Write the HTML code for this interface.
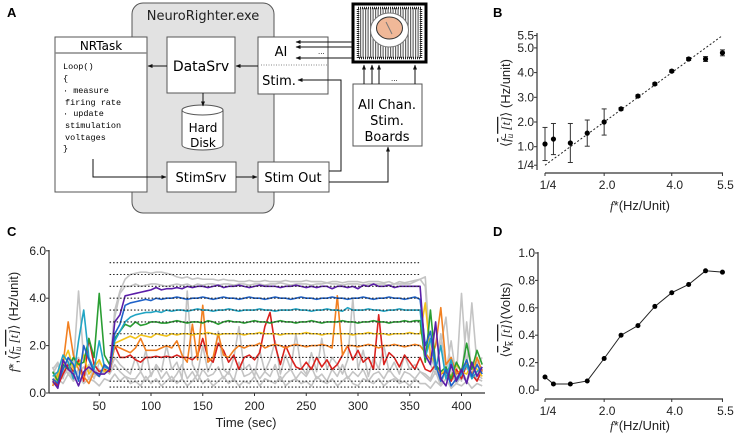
<!DOCTYPE html>
<html><head><meta charset="utf-8">
<style>
body{margin:0;background:#fff;}
svg{display:block;font-family:"Liberation Sans",sans-serif;}
.mono{font-family:"Liberation Mono",monospace;font-size:8.5px;}
</style></head>
<body>
<svg id="fig" width="734" height="433" viewBox="0 0 734 433">
<defs>
<marker id="ah" viewBox="0 0 10 10" refX="9" refY="5" markerWidth="5" markerHeight="5" orient="auto"><path d="M0,1 L10,5 L0,9 z" fill="#111"/></marker>
<pattern id="rad" width="2.5" height="2.5" patternUnits="userSpaceOnUse"><rect width="2.5" height="2.5" fill="#fff"/><rect width="1.2" height="2.5" fill="#666"/></pattern>
</defs>
<!-- Panel A -->
<g stroke-width="1">
<text x="7" y="17" font-weight="bold" font-size="13">A</text>
<rect x="132" y="3" width="142" height="210" rx="11" fill="#e2e2e2" stroke="#555"/>
<text x="203" y="20" font-size="13" text-anchor="middle" fill="#222" font-family="DejaVu Sans">NeuroRighter.exe</text>
<g>
<rect x="55" y="37" width="92" height="155" fill="#fff" stroke="#555"/>
<line x1="55" y1="53" x2="147" y2="53" stroke="#888" stroke-width="1.5"/>
<text x="101" y="50" font-size="12" text-anchor="middle" font-family="DejaVu Sans">NRTask</text>
<text class="mono" x="63" y="69">Loop()</text>
<text class="mono" x="63" y="81">{</text>
<text class="mono" x="63" y="93">· measure</text>
<text class="mono" x="65" y="105">firing rate</text>
<text class="mono" x="63" y="116">· update</text>
<text class="mono" x="65" y="128">stimulation</text>
<text class="mono" x="65" y="140">voltages</text>
<text class="mono" x="63" y="151">}</text>
</g>
<g>
<rect x="167" y="37" width="68" height="56" fill="#fff" stroke="#555"/>
<text x="201" y="71" font-size="14" text-anchor="middle" font-family="DejaVu Sans">DataSrv</text>
</g>
<g>
<rect x="258" y="37" width="70" height="57" fill="#fff" stroke="#555"/>
<text x="281" y="56" font-size="13" text-anchor="middle" font-family="DejaVu Sans">AI</text>
<text x="318" y="54" font-size="7" font-family="DejaVu Sans">...</text>
<line x1="261" y1="65" x2="328" y2="65" stroke="#888" stroke-dasharray="1,1.5"/>
<text x="279" y="85" font-size="13" text-anchor="middle" font-family="DejaVu Sans">Stim.</text>
</g>
<g>
<path d="M182,110 L182,145 A20.5,5 0 0 0 223,145 L223,110" fill="#fff" stroke="#555"/>
<ellipse cx="202.5" cy="110" rx="20.5" ry="5" fill="#fff" stroke="#555"/>
<text x="203" y="132" font-size="12" text-anchor="middle" font-family="DejaVu Sans">Hard</text>
<text x="203" y="147" font-size="12" text-anchor="middle" font-family="DejaVu Sans">Disk</text>
</g>
<g>
<rect x="167" y="162" width="69" height="30" fill="#fff" stroke="#555"/>
<text x="201" y="182" font-size="13" text-anchor="middle" font-family="DejaVu Sans">StimSrv</text>
</g>
<g>
<rect x="258" y="162" width="71" height="30" fill="#fff" stroke="#555"/>
<text x="293" y="182" font-size="13" text-anchor="middle" font-family="DejaVu Sans">Stim Out</text>
</g>
<g>
<rect x="353" y="4" width="73" height="58" fill="#fff" stroke="#000" stroke-width="3"/>
<rect x="358" y="8" width="63" height="50" fill="url(#rad)" stroke="#222" stroke-width="2.5" stroke-dasharray="1,1"/>
<ellipse cx="389.5" cy="30" rx="19" ry="17" fill="#fff" stroke="#777"/>
<ellipse cx="389.5" cy="28" rx="13" ry="11" fill="#f0b898" stroke="#333"/>
<line x1="386" y1="22" x2="392" y2="34" stroke="#777"/>
</g>
<g>
<rect x="353" y="84" width="69" height="62" fill="#fff" stroke="#555"/>
<text x="387" y="109" font-size="13" text-anchor="middle" font-family="DejaVu Sans">All Chan.</text>
<text x="387" y="125" font-size="13" text-anchor="middle" font-family="DejaVu Sans">Stim.</text>
<text x="387" y="141" font-size="13" text-anchor="middle" font-family="DejaVu Sans">Boards</text>
</g>
<g stroke="#111" fill="none" marker-end="url(#ah)">
<line x1="352" y1="42" x2="296" y2="42"/>
<line x1="352" y1="47" x2="296" y2="47"/>
<line x1="352" y1="58" x2="296" y2="58"/>
<line x1="364" y1="84" x2="364" y2="65"/>
<line x1="372" y1="84" x2="372" y2="65"/>
<line x1="379" y1="84" x2="379" y2="65"/>
<line x1="415" y1="84" x2="415" y2="65"/>
<line x1="258" y1="66" x2="236" y2="66"/>
<line x1="167" y1="66" x2="148" y2="66"/>
<line x1="203" y1="93" x2="203" y2="106"/>
<polyline points="329,171 341,171 341,80 298,80"/>
<polyline points="329,182 388,182 388,147"/>
<polyline points="93,159 93,177 166,177"/>
<line x1="236" y1="177" x2="257" y2="177"/>
</g>
<text x="391" y="81" font-size="7" font-family="DejaVu Sans">...</text>
</g>
<text x="493" y="17" font-weight="bold" font-size="13">B</text>
<text x="7" y="236" font-weight="bold" font-size="13">C</text>
<text x="493" y="236" font-weight="bold" font-size="13">D</text>
<g id="pb"></g>
<g id="pc"></g>
<g id="pd"></g>
</svg>
<script>
// ---- Panel B data ----
const bTargets = [0.25,0.5,1.0,1.5,2.0,2.5,3.0,3.5,4.0,4.5,5.0,5.5];
const bMeans = [1.11,1.31,1.15,1.55,2.0,2.53,3.05,3.54,4.06,4.55,4.55,4.8];
const bErrors = [0.67,0.63,0.79,0.53,0.53,0.05,0.05,0.05,0.05,0.06,0.1,0.12];
const bYTicks = [5.5,5.0,4.0,3.0,2.0,1.0,0.25];
const bYLabels = ["5.5","5.0","4.0","3.0","2.0","1.0","1/4"];
const xTicks = [0.25,2.0,4.0,5.5];
const xLabels = ["1/4","2.0","4.0","5.5"];
// ---- Panel D data ----
const dMeans = [0.095,0.044,0.044,0.066,0.23,0.40,0.47,0.61,0.71,0.77,0.87,0.86];
const dYTicks = [0,0.2,0.4,0.6,0.8,1.0];
const dYLabels = ["0.0","0.2","0.4","0.6","0.8","1.0"];
// ---- Panel C data ----
const cTimes = []; for (let t = 5; t <= 420; t += 5) cTimes.push(t);
const cLevels = [0.25,0.5,1.0,1.5,2.0,2.5,3.0,3.5,4.0,4.5,5.0,5.5];
const cXTicks = [50,100,150,200,250,300,350,400];
const cYTicks = [0,2,4,6];
const cYLabels = ["0.0","2.0","4.0","6.0"];
const gray1 = [1.0,1.3,0.6,1.4,1.1,4.3,1.4,0.9,1.2,1.0,0.8,1.0, 3.5,4.3,4.8,5.0,
 5.05,5.1,5.1,5.05,5.1,5.1,5.05,5.0, 4.9,4.85,4.9,4.8,4.85,4.8,4.8,4.8, 4.75,4.8,4.75,4.75,4.7,4.7,4.75,4.7, 4.7,4.75,4.7,4.7,4.7,4.75,4.7,4.7, 4.7,4.75,4.7,4.7,4.7,4.65,4.7,4.7, 4.65,4.7,4.7,4.7,4.65,4.7,4.7,4.7, 4.65,4.7,4.6,4.7,4.65,4.7,4.75,4.8,
 4.5,1.2,0.8,2.5,1.0,1.5,0.6,4.2,1.0,3.8,1.2,1.5];
const gray2 = [0.5,0.9,1.1,0.8,1.3,1.5,0.7,1.1,0.6,1.3,1.0,1.1, 3.2,4.2,4.5,4.5,
 4.6,4.5,4.55,4.6,4.6,4.55,4.5,4.55, 4.6,4.55,4.6,4.5,4.6,4.55,4.6,4.6, 4.55,4.6,4.6,4.55,4.6,4.6,4.55,4.6, 4.6,4.55,4.6,4.6,4.65,4.6,4.55,4.6, 4.6,4.6,4.55,4.6,4.6,4.65,4.6,4.6, 4.55,4.6,4.6,4.6,4.55,4.6,4.6,4.6, 4.6,4.55,4.6,4.6,4.6,4.6,4.7,4.8,
 4.9,1.5,1.0,2.0,3.2,0.8,1.0,0.5,3.0,0.8,1.2,0.9];
const gray3 = [0.8,1.2,0.7,1.0,0.5,0.9,1.1,0.6,1.0,0.8,0.9,0.9, 1.5,1.2,1.0,0.8,
 1.5,0.9,1.8,0.7,1.2,0.9,2.0,1.0, 1.3,0.6,4.3,1.2,0.8,2.0,0.9,1.4, 2.6,1.0,0.8,1.5,2.8,1.0,1.2,0.7, 1.8,0.9,1.4,2.2,0.8,1.6,1.0,2.5, 1.1,0.8,1.7,0.9,2.3,1.0,1.5,1.2, 0.8,1.4,4.0,1.0,1.8,0.7,1.5,1.0, 2.0,0.9,1.3,0.8,1.6,1.0,1.2,0.9,
 0.8,0.6,1.2,0.4,0.9,2.2,0.6,1.0,0.5,1.3,0.8,0.6];
const gray4 = [1.1,0.5,0.9,1.3,0.7,1.0,0.6,1.2,0.8,0.7,1.0,0.8, 1.2,0.9,0.7,0.6,
 0.6,0.9,0.5,0.8,1.1,0.6,0.9,0.5, 0.8,1.2,0.6,0.9,0.5,1.0,0.7,0.8, 1.1,0.6,0.9,0.5,1.3,0.7,0.8,1.0, 0.6,0.9,0.7,1.2,0.5,0.8,1.0,0.6, 0.9,0.7,1.1,0.6,0.8,0.5,1.0,0.7, 1.2,0.6,0.9,0.7,1.0,0.5,0.8,0.9, 0.6,1.0,0.7,0.5,0.9,0.8,0.6,0.9,
 0.7,0.5,0.9,0.3,0.6,0.8,0.4,0.7,0.5,0.9,0.6,0.5];
const gray5 = [0.3,0.6,0.4,0.8,0.5,0.7,0.4,0.6,0.5,0.3,0.6,0.5, 0.8,0.5,0.7,0.4,
 0.5,0.3,0.7,0.4,0.6,0.3,0.5,0.7, 0.4,0.6,0.3,0.5,0.8,0.4,0.6,0.3, 0.5,0.7,0.4,0.6,0.3,0.5,0.4,0.7, 0.3,0.6,0.5,0.4,0.7,0.3,0.5,0.6, 0.4,0.5,0.3,0.7,0.5,0.4,0.6,0.3, 0.5,0.7,0.4,0.3,0.6,0.5,0.4,0.6, 0.3,0.5,0.6,0.4,0.5,0.3,0.6,0.4,
 0.4,0.2,0.5,0.3,0.6,0.2,0.4,0.3,0.5,0.2,0.4,0.3];
const redS = [0.6,0.3,0.8,1.2,0.9,1.4,0.5,2.3,1.2,0.9,1.0,0.9, 2.0,1.5,1.5,1.6,
 1.4,1.3,1.5,1.5,1.55,1.5,1.55,1.5, 1.6,1.5,1.5,1.4,1.6,2.3,1.5,1.3, 2.1,1.8,1.3,1.6,1.0,1.5,1.6,1.4, 1.7,2.8,3.4,2.0,1.2,2.0,1.5,1.1, 1.0,1.3,1.0,1.5,1.1,1.4,1.0,1.2, 1.6,2.0,1.4,1.8,1.3,1.5,1.0,3.3, 1.2,1.7,1.5,1.1,1.6,1.3,1.0,1.5,
 1.0,0.9,1.2,0.8,0.9,0.5,1.0,0.6,1.2,0.8,0.5,1.0];
const orangeS = [0.3,0.8,1.2,3.0,1.6,1.0,0.7,0.4,0.9,0.7,1.2,1.0, 2.0,1.9,1.8,1.7,
 1.9,2.3,1.8,1.8,1.8,1.9,2.0,1.9, 2.2,1.6,1.3,2.9,1.4,3.7,1.3,1.5, 2.5,1.6,1.5,1.8,2.0,1.9,2.0,2.0, 2.1,1.9,2.0,2.05,2.0,1.9,2.0,2.05, 2.0,1.95,2.0,2.0,2.05,2.0,1.9,4.1, 1.6,2.0,2.0,1.95,2.0,2.05,2.0,1.9, 2.0,2.0,2.05,2.0,1.95,2.0,2.05,2.0,
 1.7,1.4,2.0,3.6,1.2,1.5,0.8,1.0,1.3,0.7,1.5,0.9];
const yellowS = [0.4,0.7,1.3,1.8,1.0,1.2,1.6,0.8,1.1,1.4,0.9,1.0, 2.1,2.2,2.3,2.4,
 2.3,2.45,2.4,2.35,2.5,2.45,2.4,2.5, 2.45,2.5,2.5,2.45,2.5,2.5,2.55,2.5, 2.45,2.5,2.5,2.5,2.5,2.45,2.5,2.5, 2.55,2.5,2.5,2.5,2.45,2.5,2.5,2.5, 2.5,2.55,2.5,2.5,2.45,2.5,2.5,2.5, 2.5,2.5,2.45,2.5,2.5,2.55,2.5,2.5, 2.5,2.45,2.5,2.5,2.5,2.55,2.5,2.5,
 3.8,1.6,1.2,0.8,1.0,0.7,1.2,0.9,0.8,1.3,1.0,0.7];
const greenS = [0.9,0.5,1.2,1.0,1.5,1.2,1.3,2.3,1.5,4.2,1.6,1.2, 2.3,2.6,2.9,2.8,
 3.0,2.85,2.9,3.0,3.0,2.95,2.95,3.0, 3.05,3.0,2.95,3.0,3.0,2.95,3.05,3.0, 2.9,3.0,3.05,3.0,3.0,2.95,3.0,3.05, 3.0,3.0,2.95,3.0,3.05,3.0,3.0,2.95, 3.0,3.0,3.05,3.0,2.95,3.0,3.0,3.0, 3.05,3.0,3.0,2.95,3.0,3.0,3.05,3.0, 3.0,2.95,3.0,3.0,3.05,3.0,3.05,3.05,
 1.3,3.5,1.2,0.9,1.1,0.6,1.3,0.9,2.1,1.0,1.8,1.2];
const cyanS = [0.7,0.9,1.6,1.3,0.6,2.2,3.5,1.5,1.0,2.2,1.1,1.0, 2.2,2.6,3.0,3.2,
 3.3,3.35,3.4,3.4,3.45,3.4,3.5,3.45, 3.5,3.5,3.45,3.5,3.55,3.5,3.5,3.45, 3.5,3.5,3.55,3.5,3.45,3.5,3.5,3.5, 3.55,3.5,3.5,3.45,3.5,3.5,3.5,3.55, 3.5,3.5,3.45,3.5,3.5,3.55,3.5,3.5, 3.45,3.6,3.5,3.5,3.5,3.55,3.5,3.5, 3.45,3.5,3.5,3.55,3.5,3.5,3.5,3.5,
 1.5,2.3,1.0,2.0,0.6,1.4,0.5,0.8,1.2,0.6,0.9,1.1];
const blueS = [0.6,0.4,1.0,1.5,1.2,0.5,2.0,1.4,0.9,0.7,1.2,1.0, 2.5,2.9,3.7,3.8,
 3.85,3.9,3.95,3.9,4.0,3.95,4.0,4.0, 4.05,4.0,3.95,4.0,4.0,4.05,4.0,3.95, 4.0,4.05,4.0,4.0,3.95,4.0,4.05,4.0, 4.0,3.95,4.0,4.05,4.0,4.0,3.95,4.0, 4.05,4.0,4.0,3.95,4.0,4.0,4.05,4.0, 4.0,3.95,4.0,4.0,4.05,4.0,3.95,4.0, 4.0,4.05,4.0,4.0,3.95,4.0,4.05,3.95,
 2.0,2.6,1.2,0.5,1.0,0.3,0.6,0.9,1.4,0.7,1.2,0.8];
const purpleS = [0.5,0.2,1.4,1.0,0.8,0.3,0.9,1.1,0.9,0.8,0.8,1.0, 3.0,3.3,4.1,4.15,
 4.2,4.25,4.3,4.35,4.45,4.35,4.4,4.4, 4.45,4.4,4.5,4.45,4.5,4.5,4.45,4.5, 4.55,4.45,4.5,4.5,4.55,4.5,4.45,4.5, 4.55,4.5,4.5,4.5,4.45,4.5,4.5,4.55, 4.5,4.45,4.5,4.45,4.5,4.5,4.4,4.5, 4.5,4.45,4.5,4.4,4.55,4.5,4.6,4.5, 4.5,4.55,4.45,4.5,4.5,4.5,4.5,4.5,
 1.6,1.2,3.0,0.6,0.3,1.2,0.5,1.0,0.4,1.3,0.7,1.1];

const NS = "http://www.w3.org/2000/svg";
function mk(parent, tag, attrs, text) {
  const el = document.createElementNS(NS, tag);
  for (const k in attrs) el.setAttribute(k, attrs[k]);
  if (text !== undefined) el.textContent = text;
  parent.appendChild(el);
  return el;
}

// ===== Panel B =====
const pb = document.getElementById('pb');
const bx = v => 545 + (v - 0.25) * 33.8;
const by = v => 122 - (v - 2) * 24.7;
let e;
e = mk(pb, 'line', {x1:537, y1:33, x2:537, y2:170, stroke:'#333', 'stroke-width':1.2});
 
e = mk(pb, 'line', {x1:545, y1:173, x2:723, y2:173, stroke:'#333', 'stroke-width':1.2});
 
bYTicks.forEach((v, i) => {
  mk(pb, 'line', {x1:534, y1:by(v), x2:537, y2:by(v), stroke:'#333'});
  const t = mk(pb, 'text', {x:534, y:by(v)+4, 'text-anchor':'end', 'font-size':12, fill:'#222'}, bYLabels[i]);
  
  
});
xTicks.forEach((v, i) => {
  mk(pb, 'line', {x1:bx(v), y1:173, x2:bx(v), y2:176, stroke:'#333'});
  const t = mk(pb, 'text', {x:bx(v)+3, y:189, 'text-anchor':'middle', 'font-size':12, fill:'#222'}, xLabels[i]);
  
  
});
e = mk(pb, 'line', {x1:bx(0.25), y1:by(0.25), x2:bx(5.5), y2:by(5.5), stroke:'#222', 'stroke-dasharray':'2,2', 'stroke-width':1});
 
bTargets.forEach((f, i) => {
  const x = bx(f), y = by(bMeans[i]), d = bErrors[i] * 24.7;
  const g = mk(pb, 'g', {});
  
  
  mk(g, 'line', {x1:x, y1:y-d, x2:x, y2:y+d, stroke:'#333', 'stroke-width':1});
  mk(g, 'line', {x1:x-2.5, y1:y-d, x2:x+2.5, y2:y-d, stroke:'#333'});
  mk(g, 'line', {x1:x-2.5, y1:y+d, x2:x+2.5, y2:y+d, stroke:'#333'});
  mk(g, 'circle', {cx:x, cy:y, r:2.6, fill:'#000'});
});
e = mk(pb, 'text', {x:640, y:210, 'text-anchor':'middle', 'font-size':13, fill:'#222'});
e.innerHTML = '<tspan font-style="italic" font-family="Liberation Serif">f</tspan>*(Hz/Unit)';
 
e = mk(pb, 'text', {x:0, y:0, transform:'translate(510,103) rotate(-90)', 'text-anchor':'middle', 'font-size':13, fill:'#222'});
e.innerHTML = '⟨<tspan font-style="italic" font-family="Liberation Serif" text-decoration="overline">f<tspan font-size="9" dy="3">u</tspan><tspan dy="-3"> [t]</tspan></tspan>⟩ (Hz/unit)';
 

// ===== Panel D =====
const pd = document.getElementById('pd');
const dy = v => 390 - v * 137;
e = mk(pd, 'line', {x1:538, y1:252, x2:538, y2:391, stroke:'#333', 'stroke-width':1.2});
 
e = mk(pd, 'line', {x1:545, y1:399, x2:723, y2:399, stroke:'#333', 'stroke-width':1.2});
 
dYTicks.forEach((v, i) => {
  mk(pd, 'line', {x1:535, y1:dy(v), x2:538, y2:dy(v), stroke:'#333'});
  const t = mk(pd, 'text', {x:535, y:dy(v)+4, 'text-anchor':'end', 'font-size':12, fill:'#222'}, dYLabels[i]);
  
  
});
xTicks.forEach((v, i) => {
  mk(pd, 'line', {x1:bx(v), y1:399, x2:bx(v), y2:402, stroke:'#333'});
  const t = mk(pd, 'text', {x:bx(v)+3, y:415, 'text-anchor':'middle', 'font-size':12, fill:'#222'}, xLabels[i]);
  
  
});
e = mk(pd, 'polyline', {points: bTargets.map((f, i) => bx(f) + ',' + dy(dMeans[i])).join(' '), fill:'none', stroke:'#222', 'stroke-width':1});
 
bTargets.forEach((f, i) => {
  const c = mk(pd, 'circle', {cx:bx(f), cy:dy(dMeans[i]), r:2.5, fill:'#000'});
  
  
});
e = mk(pd, 'text', {x:640, y:430, 'text-anchor':'middle', 'font-size':13, fill:'#222'});
e.innerHTML = '<tspan font-style="italic" font-family="Liberation Serif">f</tspan>*(Hz/Unit)';
 
e = mk(pd, 'text', {x:0, y:0, transform:'translate(510,320) rotate(-90)', 'text-anchor':'middle', 'font-size':13, fill:'#222'});
e.innerHTML = '⟨<tspan text-decoration="overline">v<tspan font-size="9" dy="3">k</tspan><tspan dy="-3" font-style="italic" font-family="Liberation Serif"> [t]</tspan></tspan>⟩(Volts)';
 

// ===== Panel C =====
const pc = document.getElementById('pc');
const cx = t => 151 + (t - 100) * 1.035;
const cy = v => 393 - v * 23.7;
e = mk(pc, 'line', {x1:49, y1:250, x2:49, y2:393, stroke:'#333', 'stroke-width':1.2});
 
e = mk(pc, 'line', {x1:49, y1:393, x2:485, y2:393, stroke:'#333', 'stroke-width':1.2});
 
cYTicks.forEach((v, i) => {
  mk(pc, 'line', {x1:46, y1:cy(v), x2:49, y2:cy(v), stroke:'#333'});
  const t = mk(pc, 'text', {x:46, y:cy(v)+4, 'text-anchor':'end', 'font-size':12, fill:'#222'}, cYLabels[i]);
  
  
});
cXTicks.forEach(v => {
  mk(pc, 'line', {x1:cx(v), y1:393, x2:cx(v), y2:396, stroke:'#333'});
  const t = mk(pc, 'text', {x:cx(v), y:410, 'text-anchor':'middle', 'font-size':12, fill:'#222'}, String(v));
  
  
});
const series = [
  [gray1,'#c4c4c4'],[gray2,'#c4c4c4'],[gray3,'#c4c4c4'],[gray4,'#c4c4c4'],[gray5,'#c4c4c4'],
  [redS,'#d9211e'],[orangeS,'#f28021'],[yellowS,'#f2c31b'],[greenS,'#2a9e33'],
  [cyanS,'#21a5c4'],[blueS,'#1f62c9'],[purpleS,'#5b1ea8']
];
series.forEach(([vals, col]) => {
  const p = mk(pc, 'polyline', {points: vals.map((v, i) => cx(cTimes[i]) + ',' + cy(v)).join(' '), fill:'none', stroke:col, 'stroke-width':1.6, 'stroke-linejoin':'round'});
  
  
});
cLevels.forEach(v => {
  const l = mk(pc, 'line', {x1:cx(60), y1:cy(v), x2:cx(360), y2:cy(v), stroke:'#222', 'stroke-dasharray':'1.5,2', 'stroke-width':1.1});
  
  
});
e = mk(pc, 'text', {x:246, y:427, 'text-anchor':'middle', 'font-size':13, fill:'#222'}, 'Time (sec)');
 
e = mk(pc, 'text', {x:0, y:0, transform:'translate(18,322) rotate(-90)', 'text-anchor':'middle', 'font-size':13, fill:'#222'});
e.innerHTML = '<tspan font-style="italic" font-family="Liberation Serif">f</tspan>*,⟨<tspan font-style="italic" font-family="Liberation Serif" text-decoration="overline">f<tspan font-size="9" dy="3">u</tspan><tspan dy="-3"> [t]</tspan></tspan>⟩ (Hz/unit)';
 
</script>
</body></html>
